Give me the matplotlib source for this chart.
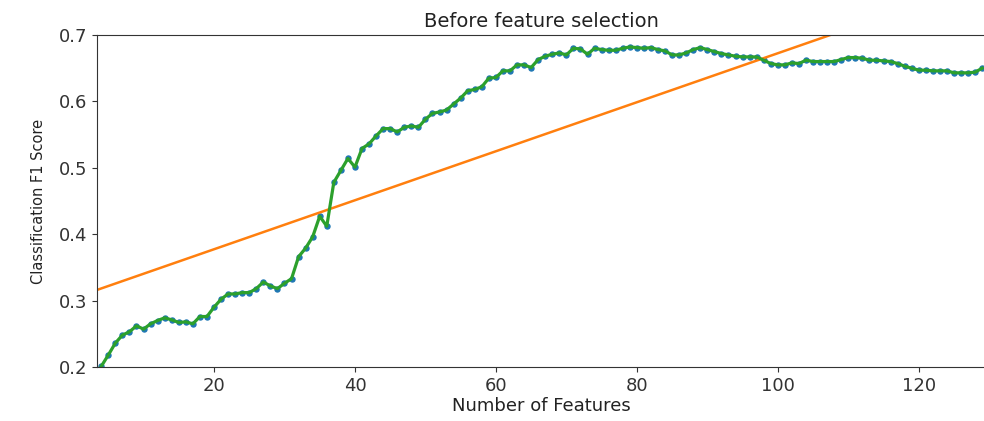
import numpy as np
import matplotlib

matplotlib.use("Agg")
import matplotlib.pyplot as plt

# number of features kept, one point per step
n_features = np.arange(4, 130)

# F1 score, features 4..129
f1_scores = [
    0.201, 0.218, 0.236, 0.248, 0.253, 0.262, 0.257, 0.265, 0.270, 0.274,
    0.271, 0.267, 0.268, 0.265, 0.276, 0.276, 0.290, 0.302, 0.310, 0.310,
    0.312, 0.312, 0.318, 0.328, 0.322, 0.318, 0.326, 0.333, 0.366, 0.379,
    0.396, 0.427, 0.412, 0.478, 0.496, 0.514, 0.501, 0.529, 0.536, 0.548,
    0.559, 0.559, 0.554, 0.561, 0.563, 0.561, 0.573, 0.582, 0.584, 0.587,
    0.596, 0.605, 0.616, 0.618, 0.622, 0.635, 0.636, 0.646, 0.646, 0.655,
    0.655, 0.651, 0.663, 0.668, 0.671, 0.673, 0.670, 0.680, 0.679, 0.671,
    0.680, 0.678, 0.677, 0.677, 0.680, 0.682, 0.681, 0.680, 0.681, 0.678,
    0.676, 0.670, 0.670, 0.673, 0.678, 0.681, 0.678, 0.675, 0.672, 0.670,
    0.668, 0.667, 0.667, 0.667, 0.662, 0.657, 0.655, 0.655, 0.658, 0.657,
    0.662, 0.660, 0.660, 0.660, 0.660, 0.663, 0.666, 0.666, 0.665, 0.662,
    0.662, 0.661, 0.660, 0.657, 0.653, 0.650, 0.647, 0.647, 0.646, 0.646,
    0.646, 0.643, 0.643, 0.643, 0.644, 0.650,
]

# straight trend line: slope, intercept
trend_coef = [0.00369, 0.3035]

fig = plt.figure(figsize=(9.84, 4.21), dpi=100)
ax = fig.add_axes([0.0986, 0.1283, 0.9024, 0.7886])

x_trend = np.array([0, 140])
ax.plot(n_features, f1_scores, "o", color="C0", markersize=3.6)
ax.plot(x_trend, np.polyval(trend_coef, x_trend), color="C1", linewidth=1.8)
ax.plot(n_features, f1_scores, color="C2", linewidth=2.3)

ax.set_xlim(3.4, 129.4)
ax.set_ylim(0.2, 0.7)
ax.set_xticks([20, 40, 60, 80, 100, 120])
ax.set_yticks([0.2, 0.3, 0.4, 0.5, 0.6, 0.7])
ax.tick_params(labelsize=13, colors="#333333")
for side in ax.spines.values():
    side.set_color("#333333")

ax.set_title("Before feature selection", fontsize=14, pad=6, color="#222222")
ax.set_xlabel("Number of Features", fontsize=13, labelpad=2, color="#222222")
ax.set_ylabel("Classification F1 Score", fontsize=10.5, labelpad=9, color="#222222")

fig.savefig("out.png", dpi=100)
